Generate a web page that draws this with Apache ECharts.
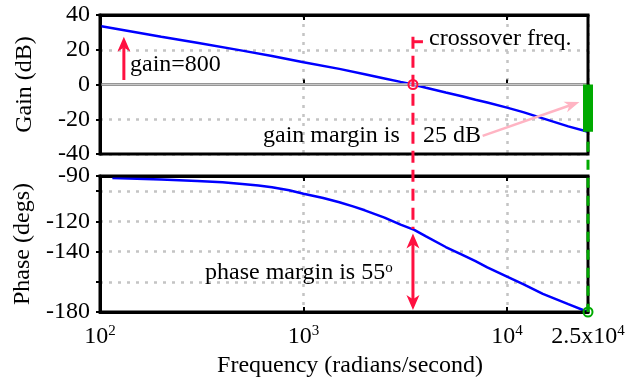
<!DOCTYPE html>
<html><head><meta charset="utf-8">
<script src="https://cdn.jsdelivr.net/npm/echarts@6/dist/echarts.min.js"></script>
<style>html,body{margin:0;padding:0;background:#fff}#c{width:641px;height:379px}</style>
</head><body><div id="c"></div>
<script>
// ---- data ----
const gainFreq = [100,200,300,500,700,1000,1500,2000,2500,3000,3450,4000,5000,6000,7000,8000,10000,12000,15000,20000,25000];
const gainDb   = [33.7,27.5,24.0,19.5,16.4,12.8,9.0,5.9,3.5,1.5,0,-1.9,-4.6,-6.8,-8.8,-10.4,-13.3,-15.9,-19.5,-24.1,-27.2];
const phaseFreq = [115,200,300,400,500,600,700,850,1000,1250,1500,1750,2000,2500,3000,3500,4000,5000,6000,7000,8000,10000,12000,15000,20000,25000];
const phaseDeg  = [-91.3,-92.3,-93.3,-94.2,-95.3,-96.3,-97.4,-99.4,-101.7,-104.6,-107.4,-110.1,-112.7,-117.5,-122.2,-125.6,-130.0,-137.0,-142.0,-146.4,-150.4,-156.6,-161.5,-168.0,-174.8,-180];
const gainTicks = [-40,-20,0,20,40];
const phaseTickLabels = [-180,-140,-120,-90];
const xTickLabels = {100:'10{s|2}',1000:'10{s|3}',10000:'10{s|4}',25000:'2.5x10{s|4}'};
const crossoverFreq = 3450, crossoverPhase = -125, endFreq = 25000, gainAtEnd = -27.2;

const FONT = '"Liberation Serif","Times New Roman",serif';
const RED = '#ff1040', GREEN = '#00aa00', BLUE = '#0000ff', PINK = '#ffb4c3';
const gridLine = {color:'#c4c4c4', width:2.5, type:[3,6]};

function xAx(grid, pos, withLabels){
  return {
    gridIndex:grid, type:'log', logBase:10, min:100, max:25000, position:pos,
    axisLine:{show:true, lineStyle:{color:'#000', width:3}},
    axisTick:{show:true, inside:true, length:5, lineStyle:{color:'#000', width:2}},
    splitLine:{show:pos==='bottom', lineStyle:gridLine},
    axisLabel:{show:withLabels, showMinLabel:true, showMaxLabel:true, margin:12,
      color:'#000', fontFamily:FONT, fontSize:24, lineHeight:26,
      formatter:v=>{ const k = Math.round(v); return xTickLabels[k] || ''; },
      rich:{s:{fontSize:15, lineHeight:15, verticalAlign:'top', fontFamily:FONT, color:'#000'}}},
    name: withLabels ? 'Frequency (radians/second)' : '',
    nameLocation:'middle', nameGap:42,
    nameTextStyle:{color:'#000', fontFamily:FONT, fontSize:24, padding:[0,0,0,12]}
  };
}

const chart = echarts.init(document.getElementById('c'));
chart.setOption({
  animation:false,
  grid:[
    {left:100, top:15, width:488, height:139},
    {left:100, top:176, width:488, height:138}
  ],
  xAxis:[xAx(0,'bottom',false), xAx(0,'top',false), xAx(1,'bottom',true), xAx(1,'top',false)],
  yAxis:[
    {gridIndex:0, type:'value', min:gainTicks[0], max:gainTicks[gainTicks.length-1], interval:20,
     axisLine:{show:true, lineStyle:{color:'#000', width:3}},
     axisTick:{show:true, inside:false, length:4, lineStyle:{color:'#000', width:2}},
     splitLine:{show:true, lineStyle:gridLine},
     axisLabel:{color:'#000', fontFamily:FONT, fontSize:24, margin:10, showMinLabel:true, showMaxLabel:true},
     name:'Gain (dB)', nameLocation:'middle', nameGap:63,
     nameTextStyle:{color:'#000', fontFamily:FONT, fontSize:24}},
    {gridIndex:1, type:'value', min:-180, max:-90, interval:20,
     axisLine:{show:true, lineStyle:{color:'#000', width:3}},
     axisTick:{show:true, inside:false, length:4, lineStyle:{color:'#000', width:2}},
     splitLine:{show:true, lineStyle:gridLine},
     axisLabel:{color:'#000', fontFamily:FONT, fontSize:24, margin:10, showMinLabel:true, showMaxLabel:true,
       customValues:phaseTickLabels,
       formatter:v=> phaseTickLabels.indexOf(Math.round(v))>=0 ? String(Math.round(v)) : ''},
     name:'Phase (degs)', nameLocation:'middle', nameGap:63,
     nameTextStyle:{color:'#000', fontFamily:FONT, fontSize:24}}
  ],
  series:[
    {name:'zero', type:'line', xAxisIndex:0, yAxisIndex:0, data:[], z:1,
     markLine:{silent:true, symbol:'none', label:{show:false},
       lineStyle:{color:'#c8c8c8', type:'solid', width:2.5}, data:[{yAxis:0}]}},
    {name:'Gain', type:'line', xAxisIndex:0, yAxisIndex:0, showSymbol:false, z:3,
     lineStyle:{color:BLUE, width:2.5}, itemStyle:{color:BLUE},
     data:gainFreq.map((f,i)=>[f,gainDb[i]])},
    {name:'Phase', type:'line', xAxisIndex:2, yAxisIndex:1, showSymbol:false, z:3,
     lineStyle:{color:BLUE, width:2.5}, itemStyle:{color:BLUE},
     data:phaseFreq.map((f,i)=>[f,phaseDeg[i]])}
  ]
});

// ---- annotations, anchored in data coordinates ----
const P0 = (f,v)=>chart.convertToPixel({xAxisIndex:0, yAxisIndex:0}, [f,v]);
const P1 = (f,v)=>chart.convertToPixel({xAxisIndex:2, yAxisIndex:1}, [f,v]);

function head(tip, from, color, L, W){
  const dx=tip[0]-from[0], dy=tip[1]-from[1], len=Math.hypot(dx,dy), ux=dx/len, uy=dy/len;
  const bx=tip[0]-ux*L, by=tip[1]-uy*L;
  const nx=tip[0]-ux*L*0.72, ny=tip[1]-uy*L*0.72;
  return {type:'polygon', z:100, shape:{points:[tip,[bx-uy*W/2,by+ux*W/2],[nx,ny],[bx+uy*W/2,by-ux*W/2]]}, style:{fill:color}};
}
function shaft(a,b,color,w,dash,z){
  return {type:'line', z:z||99, shape:{x1:a[0],y1:a[1],x2:b[0],y2:b[1]}, style:{stroke:color, lineWidth:w, lineDash:dash||null}};
}
function arrow(from, tip, color, w, L, W){
  const dx=tip[0]-from[0], dy=tip[1]-from[1], len=Math.hypot(dx,dy);
  const end=[tip[0]-dx/len*L*0.7, tip[1]-dy/len*L*0.7];
  return [shaft(from,end,color,w), head(tip,from,color,L,W)];
}
function txt(x,y,text){
  return {type:'text', z:101, x:x, y:y,
    style:{text:text, fontFamily:FONT, fontSize:24, fill:'#000', verticalAlign:'middle', align:'left',
      rich:{s:{fontSize:15, lineHeight:15, verticalAlign:'top', fontFamily:FONT, fill:'#000'}}}};
}

const g = [];
// black frames of both panels
[[P0(100,40), P0(25000,-40)], [P1(100,-90), P1(25000,-180)]].forEach(([a,b])=>{
  g.push({type:'rect', z:95, shape:{x:a[0], y:a[1], width:b[0]-a[0], height:b[1]-a[1]},
          style:{fill:'none', stroke:'#000', lineWidth:3}});
});
// crossover dashed line (spans both panels)
const cTop = P0(crossoverFreq, 27.5), cBot = P1(crossoverFreq, crossoverPhase);
g.push(shaft(cTop, cBot, RED, 3, [12,7]));
g.push(shaft([cTop[0], cTop[1]+5], [cTop[0]+10, cTop[1]+5], RED, 3));
const c0 = P0(crossoverFreq, 0);
g.push({type:'circle', z:100, shape:{cx:c0[0], cy:c0[1], r:4.5}, style:{fill:'none', stroke:RED, lineWidth:2}});
// gain=800 arrow
g.push(...arrow(P0(131, 2.6), P0(131, 27.5), RED, 3, 15, 13));
// gain margin bar
const gTop = P0(endFreq, 0), gBot = P0(endFreq, gainAtEnd);
g.push({type:'rect', z:98, shape:{x:gTop[0]-5, y:gTop[1], width:10, height:gBot[1]-gTop[1]}, style:{fill:GREEN}});
// green dashed line
g.push(shaft(P0(endFreq, -33), P1(endFreq, -180), GREEN, 3, [10,8], 97));
const ge = P1(endFreq, -180);
g.push({type:'circle', z:100, shape:{cx:ge[0], cy:ge[1], r:4.5}, style:{fill:'none', stroke:GREEN, lineWidth:2}});
// pink arrow
g.push(...arrow(P0(7590,-29.6), P0(22700,-10.1), PINK, 2.5, 15, 11));
// phase margin double arrow
const pa = P1(crossoverFreq, -128), pb = P1(crossoverFreq, -178.7);
g.push(shaft([pa[0], pa[1]+10], [pb[0], pb[1]-10], RED, 3));
g.push(head(pa, pb, RED, 15, 13));
g.push(head(pb, pa, RED, 15, 13));
// texts
g.push(txt(130, 65, 'gain=800'));
g.push(txt(429, 39, 'crossover freq.'));
g.push(txt(263, 136, 'gain margin is'));
g.push(txt(423, 136, '25 dB'));
g.push(txt(205, 273, 'phase margin is 55{s|o}'));

chart.setOption({graphic:g});
</script>
</body></html>
